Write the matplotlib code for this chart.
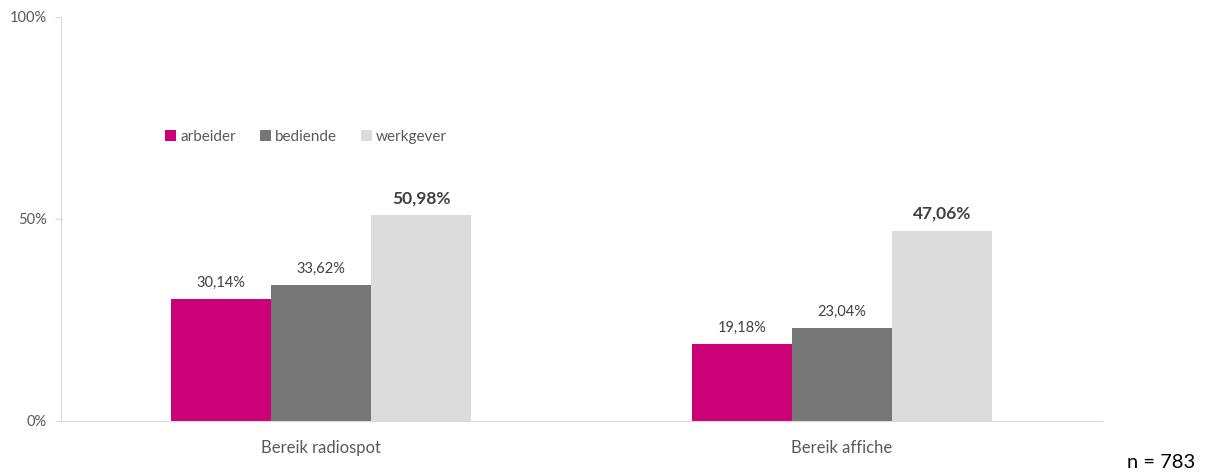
import matplotlib
matplotlib.use("Agg")
import matplotlib.pyplot as plt
import numpy as np

categories = ["Bereik radiospot", "Bereik affiche"]
series = ["arbeider", "bediende", "werkgever"]
arbeider = [30.14, 19.18]
bediende = [33.62, 23.04]
werkgever = [50.98, 47.06]
labels = [["30,14%", "19,18%"], ["33,62%", "23,04%"], ["50,98%", "47,06%"]]
colors = ["#CC0077", "#767676", "#DCDCDC"]

plt.rcParams['font.family'] = ['Lato', 'DejaVu Sans']

fig = plt.figure(figsize=(12.05, 4.75), dpi=100)
ax = fig.add_axes([61/1205, 1-421/475, 1041/1205, 404/475])

x = np.arange(len(categories))
w = 0.192
vals = [arbeider, bediende, werkgever]
for i, (name, v) in enumerate(zip(series, vals)):
    pos = x + (i - 1) * w
    ax.bar(pos, v, width=w, color=colors[i], label=name, zorder=2)
    for j, (p, val) in enumerate(zip(pos, v)):
        bold = (i == 2)
        ax.text(p, val + 2.2, labels[i][j], ha='center', va='bottom',
                fontsize=12.5 if bold else 10.5, fontweight='bold' if bold else 'normal',
                color='#404040')

ax.set_xlim(-0.5, 1.5)
ax.set_ylim(0, 100)
ax.set_yticks([0, 50, 100])
ax.set_yticklabels(["0%", "50%", "100%"], fontsize=10.5, color='#595959')
ax.set_xticks(x)
ax.set_xticklabels(categories, fontsize=12, color='#595959')
ax.tick_params(axis='x', length=0, pad=14)
ax.tick_params(axis='y', length=4, color='#D9D9D9', pad=6)
for s in ['top', 'right']:
    ax.spines[s].set_visible(False)
ax.spines['left'].set_color('#D9D9D9')
ax.spines['bottom'].set_color('#D9D9D9')

leg = ax.legend(loc='upper left', bbox_to_anchor=(0.087, 0.755), ncol=3, frameon=False,
                fontsize=11, handlelength=0.7, handleheight=0.7, handletextpad=0.3,
                columnspacing=1.55)
for t in leg.get_texts():
    t.set_color('#595959')

fig.text(1195/1205, 1-462/475, "n = 783", ha='right', va='center', fontsize=14.5, color='black')

fig.savefig("out.png", dpi=100)
